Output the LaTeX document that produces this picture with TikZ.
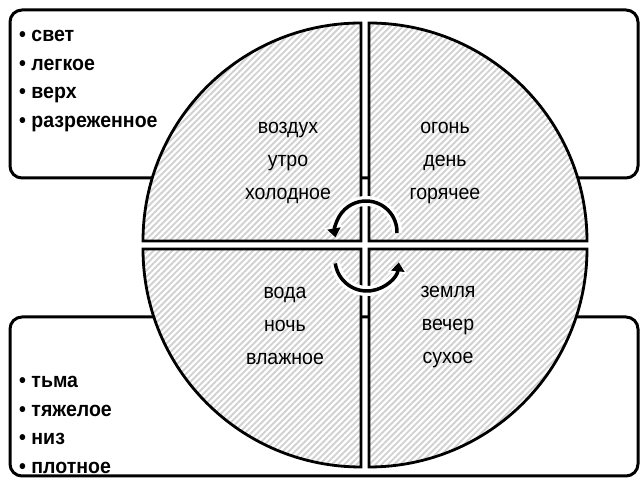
\documentclass[tikz,border=0pt]{standalone}
\usepackage{fontspec}
\setmainfont{Liberation Sans}[FakeStretch=0.93]
\usetikzlibrary{patterns.meta,arrows.meta}
\tikzset{
  panel/.style={draw=black, line width=3pt, rounded corners=12pt},
  sector/.style={draw=black, line width=2.8pt, line join=miter, preaction={fill=white},
    pattern={Lines[angle=45,distance=4.4pt,line width=1.9pt]}, pattern color=black!18},
  sectortext/.style={align=center, font=\fontsize{21}{33}\selectfont, inner sep=0pt},
  listtext/.style={align=left, anchor=west, font=\fontsize{21}{28.7}\selectfont\bfseries, inner sep=0pt},
  cyc/.style={draw=black, line width=3.5pt, -{Triangle[length=9pt,width=13pt]}},
  cychalo/.style={draw=white, line width=10pt, -{Triangle[length=11pt,width=20pt]}}
}
\begin{document}
\begin{tikzpicture}[x=1pt,y=1pt]
\useasboundingbox (0,0) rectangle (641,479);
% background panels
\draw[panel] (10,301) rectangle (638,469);
\draw[panel] (10,3) rectangle (638,162);
% sectors
\coordinate (ctl) at (361,238);
\coordinate (ctr) at (369,238);
\coordinate (cbl) at (361,230);
\coordinate (cbr) at (369,230);
\path[sector] (ctl) -- ++(180:218pt) arc[start angle=180,end angle=90,radius=218pt] -- cycle;
\path[sector] (ctr) -- ++(90:218pt) arc[start angle=90,end angle=0,radius=218pt] -- cycle;
\path[sector] (cbl) -- ++(270:218pt) arc[start angle=270,end angle=180,radius=218pt] -- cycle;
\path[sector] (cbr) -- ++(0:218pt) arc[start angle=0,end angle=-90,radius=218pt] -- cycle;
% sector texts
\node[sectortext] (air) at (288,316) {воздух\\утро\\холодное};
\node[sectortext] (fire) at (445,316) {огонь\\день\\горячее};
\node[sectortext] (water) at (285,153) {вода\\ночь\\влажное};
\node[sectortext] (earth) at (448,152) {земля\\вечер\\сухое};
% lists
\node[listtext] (top) at (19,398) {• свет\\• легкое\\• верх\\• разреженное};
\node[listtext] (bottom) at (19,54) {• тьма\\• тяжелое\\• низ\\• плотное};
% cycle arrows
\coordinate (ua) at (366,247);
\coordinate (la) at (367,220);
\path[cychalo] (ua) ++(-2:31pt) arc[start angle=-2,end angle=190,radius=31pt];
\path[cychalo] (la) ++(188:32pt) arc[start angle=188,end angle=354,radius=32pt];
\path[cyc] (ua) ++(-2:31pt) arc[start angle=-2,end angle=190,radius=31pt];
\path[cyc] (la) ++(188:32pt) arc[start angle=188,end angle=354,radius=32pt];
\end{tikzpicture}
\end{document}
